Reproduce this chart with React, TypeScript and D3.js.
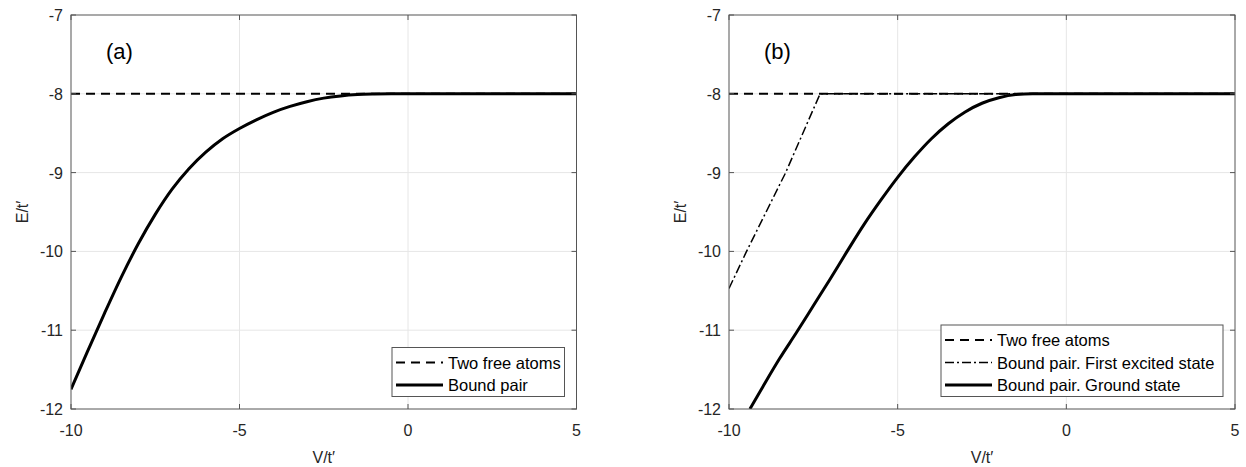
import React from "react";
import * as d3 from "d3";

// ---------- data ----------
const xTicks = [-10, -5, 0, 5];
const yTicks = [-7, -8, -9, -10, -11, -12];

// panel (a)
const freeV_a = [-10, 5];
const freeE_a = [-8, -8];
const boundV_a = [-10, -9.5, -9, -8.5, -8, -7.5, -7, -6.5, -6, -5.5, -5, -4.5, -4, -3.5, -3, -2.5, -2, -1.5, -1, -0.5, 0, 5];
const boundE_a = [-11.75, -11.26, -10.78, -10.32, -9.9, -9.53, -9.21, -8.95, -8.74, -8.57, -8.44, -8.33, -8.235, -8.16, -8.1, -8.055, -8.027, -8.01, -8.003, -8.0, -8.0, -8.0];

// panel (b)
const freeV_b = [-10, 5];
const freeE_b = [-8, -8];
const excitedV_b = [-10, -9.48, -8.32, -7.3, -5, 0, 5];
const excitedE_b = [-10.47, -10, -9, -8, -8, -8, -8];
const groundV_b = [-9.38, -9, -8.5, -8, -7.5, -7, -6.5, -6, -5.5, -5, -4.5, -4, -3.5, -3, -2.5, -2, -1.5, -1, 0, 5];
const groundE_b = [-12, -11.72, -11.36, -11.03, -10.69, -10.35, -10.0, -9.66, -9.35, -9.06, -8.8, -8.57, -8.38, -8.23, -8.12, -8.05, -8.01, -8.0, -8.0, -8.0];

const legendA = ["Two free atoms", "Bound pair"];
const legendB = ["Two free atoms", "Bound pair. First excited state", "Bound pair. Ground state"];

type Style = { width: number; dash?: string };
const freeStyle: Style = { width: 2, dash: "9,6" };
const excitedStyle: Style = { width: 1.5, dash: "9,3,2,3" };
const boundStyle: Style = { width: 3 };

const FONT = "'Liberation Sans', Arial, Helvetica, sans-serif";

function zip(v: number[], e: number[]): [number, number][] {
  return v.map((x, i) => [x, e[i]] as [number, number]);
}

type Series = { pts: [number, number][]; style: Style; smooth?: boolean };

function Panel({ x0, x1, label, series, legend, legendStyles, legendLeft }: {
  x0: number; x1: number; label: string; series: Series[]; legend: string[]; legendStyles: Style[]; legendLeft: number;
}) {
  const y0 = 15, y1 = 409;
  const x = d3.scaleLinear().domain([-10, 5]).range([x0, x1]);
  const y = d3.scaleLinear().domain([-7, -12]).range([y0, y1]);
  const lineStraight = d3.line<[number, number]>().x((d) => x(d[0])).y((d) => y(d[1]));
  const lineSmooth = d3.line<[number, number]>().x((d) => x(d[0])).y((d) => y(d[1])).curve(d3.curveMonotoneX);
  const clipId = "clip" + label.replace(/[()]/g, "");
  const axisColor = "#555";
  const textColor = "#262626";
  const legRight = x1 - 12;
  const legBottom = 396.5;
  const rowH = 22.5;
  const legTop = legBottom - legend.length * rowH - 4;
  return (
    <g>
      <defs>
        <clipPath id={clipId}>
          <rect x={x0} y={y0} width={x1 - x0} height={y1 - y0} />
        </clipPath>
      </defs>
      {/* grid */}
      {xTicks.slice(1, -1).map((t) => (
        <line key={"gx" + t} x1={x(t)} x2={x(t)} y1={y0} y2={y1} stroke="#e6e6e6" strokeWidth={1} />
      ))}
      {yTicks.slice(1, -1).map((t) => (
        <line key={"gy" + t} x1={x0} x2={x1} y1={y(t)} y2={y(t)} stroke="#e6e6e6" strokeWidth={1} />
      ))}
      {/* series */}
      <g clipPath={`url(#${clipId})`}>
        {series.map((s, i) => (
          <path key={i} d={(s.smooth ? lineSmooth(s.pts) : lineStraight(s.pts)) || ""} fill="none" stroke="#000" strokeWidth={s.style.width}
            strokeDasharray={s.style.dash} strokeLinejoin="round" />
        ))}
      </g>
      {/* box */}
      <rect x={x0} y={y0} width={x1 - x0} height={y1 - y0} fill="none" stroke={axisColor} strokeWidth={1} />
      {/* ticks */}
      {xTicks.map((t) => (
        <g key={"tx" + t}>
          <line x1={x(t)} x2={x(t)} y1={y1} y2={y1 - 5} stroke={axisColor} />
          <line x1={x(t)} x2={x(t)} y1={y0} y2={y0 + 5} stroke={axisColor} />
          <text x={x(t)} y={y1 + 27} textAnchor="middle" fontSize={16} fontFamily={FONT} fill={textColor}>{t}</text>
        </g>
      ))}
      {yTicks.map((t) => (
        <g key={"ty" + t}>
          <line x1={x0} x2={x0 + 5} y1={y(t)} y2={y(t)} stroke={axisColor} />
          <line x1={x1} x2={x1 - 5} y1={y(t)} y2={y(t)} stroke={axisColor} />
          <text x={x0 - 8} y={y(t) + 6} textAnchor="end" fontSize={16} fontFamily={FONT} fill={textColor}>{t}</text>
        </g>
      ))}
      {/* axis labels */}
      <text x={(x0 + x1) / 2} y={463} textAnchor="middle" fontSize={16} fontFamily={FONT} fill={textColor}>V/t′</text>
      <text transform={`translate(${x0 - 43},${(y0 + y1) / 2}) rotate(-90)`} textAnchor="middle" fontSize={16} fontFamily={FONT} fill={textColor}>E/t′</text>
      {/* panel label */}
      <text x={x0 + 35} y={59} fontSize={22} fontFamily={FONT} fill="#000">{label}</text>
      {/* legend */}
      <rect x={legendLeft} y={legTop} width={legRight - legendLeft} height={legBottom - legTop} fill="#fff" stroke={axisColor} strokeWidth={1} />
      {legend.map((txt, i) => {
        const cy = legTop + 15 + i * rowH;
        const st = legendStyles[i];
        return (
          <g key={txt}>
            <line x1={legendLeft + 4} x2={legendLeft + 51} y1={cy} y2={cy} stroke="#000" strokeWidth={st.width} strokeDasharray={st.dash} />
            <text x={legendLeft + 56} y={cy + 6} fontSize={16.5} fontFamily={FONT} fill="#000">{txt}</text>
          </g>
        );
      })}
    </g>
  );
}

export default function App() {
  return (
    <svg width={1246} height={467} style={{ position: "absolute", left: 0, top: 0, background: "#fff" }}>
      <rect width={1246} height={467} fill="#fff" />
      <Panel x0={71} x1={576.5} label="(a)"
        series={[
          { pts: zip(freeV_a, freeE_a), style: freeStyle },
          { pts: zip(boundV_a, boundE_a), style: boundStyle, smooth: true },
        ]}
        legend={legendA} legendStyles={[freeStyle, boundStyle]} legendLeft={392} />
      <Panel x0={729} x1={1235} label="(b)"
        series={[
          { pts: zip(freeV_b, freeE_b), style: freeStyle },
          { pts: zip(excitedV_b, excitedE_b), style: excitedStyle },
          { pts: zip(groundV_b, groundE_b), style: boundStyle, smooth: true },
        ]}
        legend={legendB} legendStyles={[freeStyle, excitedStyle, boundStyle]} legendLeft={941} />
    </svg>
  );
}
